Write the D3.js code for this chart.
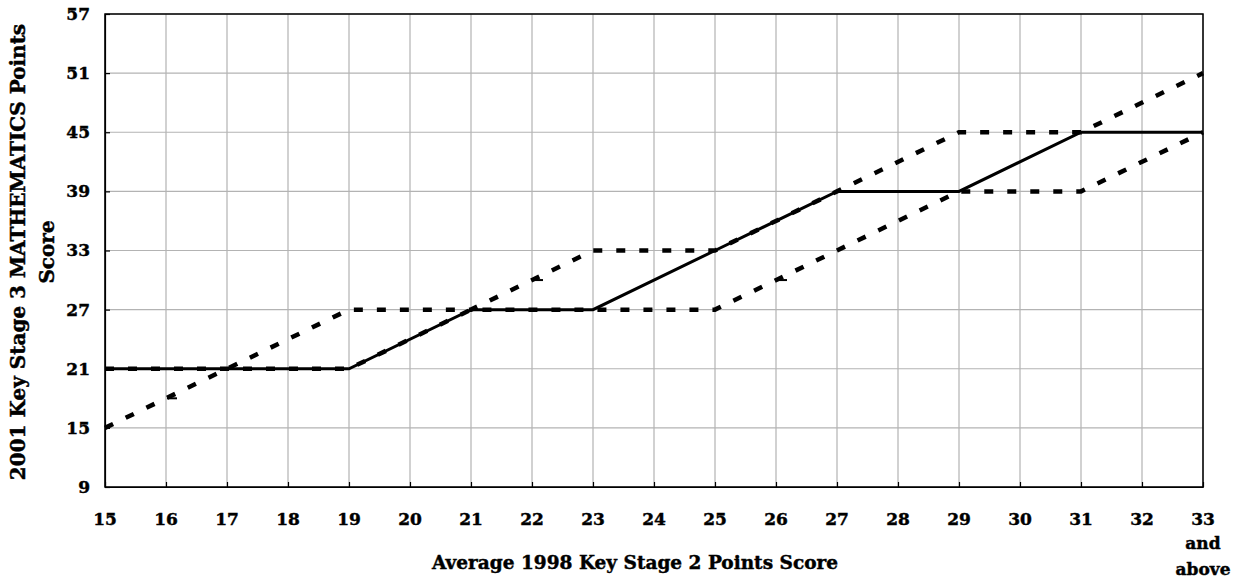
<!DOCTYPE html>
<html><head><meta charset="utf-8">
<script src="https://cdn.jsdelivr.net/npm/d3@7"></script>
<style>body{margin:0;background:#fff}text{font-family:"DejaVu Serif",serif;font-weight:bold;fill:#000;stroke:#000;stroke-width:0.45px}</style>
</head><body><svg id="c" width="1250" height="585"></svg>
<script>
const xTicks = [15,16,17,18,19,20,21,22,23,24,25,26,27,28,29,30,31,32,33];
const yTicks = [9,15,21,27,33,39,45,51,57];
const medianX = [15,19,21,23,25,27,29,31,33];
const medianY = [21,21,27,27,33,39,39,45,45];
const upperX = [15,17,19,21,23,25,27,29,31,33];
const upperY = [15,21,27,27,33,33,39,45,45,51];
const lowerX = [15,19,21,25,27,29,31,33];
const lowerY = [21,21,27,27,33,39,39,45];
const markX = [16,22,26];
const markY = [18,30,30];

const svg = d3.select("#c");
const L=105,R=1203,T=14,B=487;
const x = d3.scaleLinear().domain([15,33]).range([L,R]);
const y = d3.scaleLinear().domain([9,57]).range([B,T]);

// grid
svg.append("g").selectAll("line").data(xTicks).join("line")
  .attr("x1",d=>x(d)).attr("x2",d=>x(d)).attr("y1",T).attr("y2",B)
  .attr("stroke","#b3b3b3").attr("stroke-width",1.2);
svg.append("g").selectAll("line").data(yTicks).join("line")
  .attr("y1",d=>y(d)).attr("y2",d=>y(d)).attr("x1",L).attr("x2",R)
  .attr("stroke","#b3b3b3").attr("stroke-width",1.2);

// axes
const ax = svg.append("g").attr("transform",`translate(0,${B})`)
  .call(d3.axisBottom(x).tickValues(xTicks).tickSizeInner(-5).tickSizeOuter(0).tickFormat(""));
const ay = svg.append("g").attr("transform",`translate(${L},0)`)
  .call(d3.axisLeft(y).tickValues(yTicks).tickSizeInner(-5).tickSizeOuter(0).tickFormat(""));
[ax,ay].forEach(g=>{g.selectAll("path,line").attr("stroke","#000").attr("stroke-width",1.2);});
svg.append("rect").attr("x",L).attr("y",T).attr("width",R-L).attr("height",B-T)
  .attr("fill","none").attr("stroke","#000").attr("stroke-width",1.5);

// tick labels
svg.append("g").selectAll("text").data(yTicks).join("text")
  .attr("x",90).attr("y",d=>y(d)).attr("dy","0.35em").attr("text-anchor","end")
  .style("font-size","17px").text(d=>d);
svg.append("g").selectAll("text").data(xTicks).join("text")
  .attr("x",d=>x(d)).attr("y",525).attr("text-anchor","middle")
  .style("font-size","17px").text(d=>d);
svg.append("text").attr("x",x(33)).attr("y",549).attr("text-anchor","middle").style("font-size","17px").text("and");
svg.append("text").attr("x",x(33)).attr("y",575).attr("text-anchor","middle").style("font-size","17px").text("above");

// titles
svg.append("text").attr("x",635).attr("y",569).attr("text-anchor","middle").style("font-size","18.5px")
  .text("Average 1998 Key Stage 2 Points Score");
svg.append("text").attr("transform","translate(25,252) rotate(-90)").attr("text-anchor","middle").style("font-size","20px")
  .text("2001 Key Stage 3 MATHEMATICS Points");
svg.append("text").attr("transform","translate(54,252) rotate(-90)").attr("text-anchor","middle").style("font-size","20px")
  .text("Score");

// lines
const line = d3.line().x(d=>x(d[0])).y(d=>y(d[1]));
const zip = (a,b)=>a.map((v,i)=>[v,b[i]]);
svg.append("path").datum(zip(upperX,upperY)).attr("d",line)
  .attr("fill","none").attr("stroke","#000").attr("stroke-width",4.5).attr("stroke-dasharray","9,14");
svg.append("path").datum(zip(lowerX,lowerY)).attr("d",line)
  .attr("fill","none").attr("stroke","#000").attr("stroke-width",4.5).attr("stroke-dasharray","9,14");
svg.append("path").datum(zip(medianX,medianY)).attr("d",line)
  .attr("fill","none").attr("stroke","#000").attr("stroke-width",3);
svg.append("g").selectAll("line").data(zip(markX,markY)).join("line")
  .attr("x1",d=>x(d[0])+1).attr("x2",d=>x(d[0])+11).attr("y1",d=>y(d[1])).attr("y2",d=>y(d[1]))
  .attr("stroke","#000").attr("stroke-width",2);
</script></body></html>
